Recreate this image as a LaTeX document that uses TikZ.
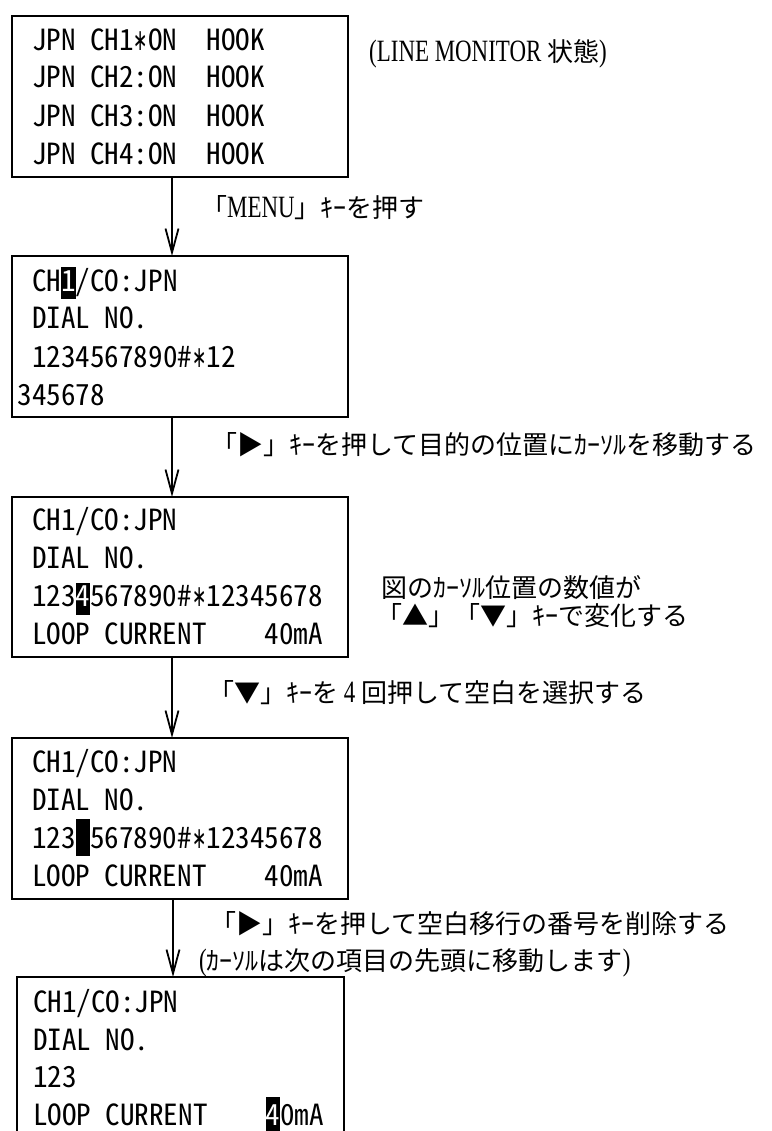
\documentclass[tikz,border=0pt]{standalone}
\usepackage{fontspec}
\usepackage{graphicx}
\usetikzlibrary{arrows.meta}
\newfontfamily\lcd[RawFeature=+hwid]{Noto Sans CJK JP}
\newfontfamily\jp{Noto Sans CJK JP}
\newfontfamily\dv{DejaVu Sans}
\newfontfamily\lser[FakeStretch=0.74]{Liberation Serif}
\newcommand\lcdfont{\lcd\fontsize{29.1}{30}\selectfont}
\newcommand\lat[1]{{\lser\fontsize{31}{32}\selectfont #1}}
\newlength\pitch
\setlength\pitch{14.55pt}
\newcommand\SP{\hspace*{\pitch}}
\newcommand\AST{\makebox[\pitch]{\scalebox{0.57}[1]{\dv\fontsize{30}{30}\selectfont ∗}}}
\newcommand\HL[3]{\rlap{\smash{\rule[-#1]{\pitch}{#2}}}\textcolor{white}{#3}}
\tikzset{
  box/.style={draw, line width=1.8pt, minimum width=336pt, minimum height=161pt,
              anchor=north west, inner sep=0pt, outer sep=0pt},
  lcdtext/.style={font=\lcdfont, anchor=base west, inner sep=0pt, outer sep=0pt},
  lbl/.style={font=\jp\fontsize{26}{28}\selectfont, anchor=base west, inner sep=0pt},
  arr/.style={line width=1.8pt, -{Straight Barb[length=24pt,width=13pt,line width=1.8pt]}}
}
\begin{document}
\begin{tikzpicture}[x=1pt,y=-1pt]
\useasboundingbox (0,0) rectangle (771,1131);
% boxes
\node[box] (b1) at (12,16) {};
\node[box] (b2) at (12,256) {};
\node[box, minimum height=160pt] (b3) at (12,497) {};
\node[box] (b4) at (12,738) {};
\node[box, minimum width=327pt, minimum height=180pt] (b5) at (17,977) {};
% box 1
\node[lcdtext] (t11) at (32,51)  {JPN\SP CH1\AST ON\SP\SP HOOK};
\node[lcdtext] (t12) at (32,88)  {JPN\SP CH2:ON\SP\SP HOOK};
\node[lcdtext] (t13) at (32,127) {JPN\SP CH3:ON\SP\SP HOOK};
\node[lcdtext] (t14) at (32,165) {JPN\SP CH4:ON\SP\SP HOOK};
% box 2
\node[lcdtext] (t21) at (17.5,291) {\SP CH\HL{8pt}{32pt}{1}/CO:JPN};
\node[lcdtext] (t22) at (17.5,328) {\SP DIAL\SP NO.};
\node[lcdtext] (t23) at (17.5,367) {\SP 1234567890\#\AST 12};
\node[lcdtext] (t24) at (17.5,405) {345678};
% box 3
\node[lcdtext] (t31) at (32,530) {CH1/CO:JPN};
\node[lcdtext] (t32) at (32,568) {DIAL\SP NO.};
\node[lcdtext] (t33) at (32,606) {123\HL{9pt}{32pt}{4}567890\#\AST 12345678};
\node[lcdtext] (t34) at (32,644) {LOOP\SP CURRENT\SP\SP\SP\SP 40mA};
% box 4
\node[lcdtext] (t41) at (32,772) {CH1/CO:JPN};
\node[lcdtext] (t42) at (32,810) {DIAL\SP NO.};
\node[lcdtext] (t43) at (32,848) {123\HL{8pt}{37pt}{\SP}567890\#\AST 12345678};
\node[lcdtext] (t44) at (32,886) {LOOP\SP CURRENT\SP\SP\SP\SP 40mA};
% box 5
\node[lcdtext] (t51) at (33,1012) {CH1/CO:JPN};
\node[lcdtext] (t52) at (33,1050) {DIAL\SP NO.};
\node[lcdtext] (t53) at (33,1087) {123};
\node[lcdtext] (t54) at (33,1125) {LOOP\SP CURRENT\SP\SP\SP\SP\HL{8pt}{36pt}{4}0mA};
% labels
\node[lbl] (l1) at (369,62) {\lat{(LINE MONITOR }状態\lat{)}};
\node[lbl] (l2) at (201,218) {「\lat{MENU}」ｷｰを押す};
\node[lbl] (l3) at (211,454) {「▶」ｷｰを押して目的の位置にｶｰｿﾙを移動する};
\node[lbl] (l4a) at (381,597) {図のｶｰｿﾙ位置の数値が};
\node[lbl] (l4b) at (376,625) {「▲」「▼」ｷｰで変化する};
\node[lbl] (l5) at (208,702) {「▼」ｷｰを\lat{ 4 }回押して空白を選択する};
\node[lbl] (l6) at (210,933) {「▶」ｷｰを押して空白移行の番号を削除する};
\node[lbl] (l7) at (199,970) {\lat{(}ｶｰｿﾙは次の項目の先頭に移動します\lat{)}};
% arrows
\coordinate (ax) at (172,0);
\coordinate (ax4) at (173,0);
\draw[arr] (b1.south -| ax) -- (b2.north -| ax);
\draw[arr] (b2.south -| ax) -- (b3.north -| ax);
\draw[arr] (b3.south -| ax) -- (b4.north -| ax);
\draw[arr] (b4.south -| ax4) -- (b5.north -| ax4);
\end{tikzpicture}
\end{document}
